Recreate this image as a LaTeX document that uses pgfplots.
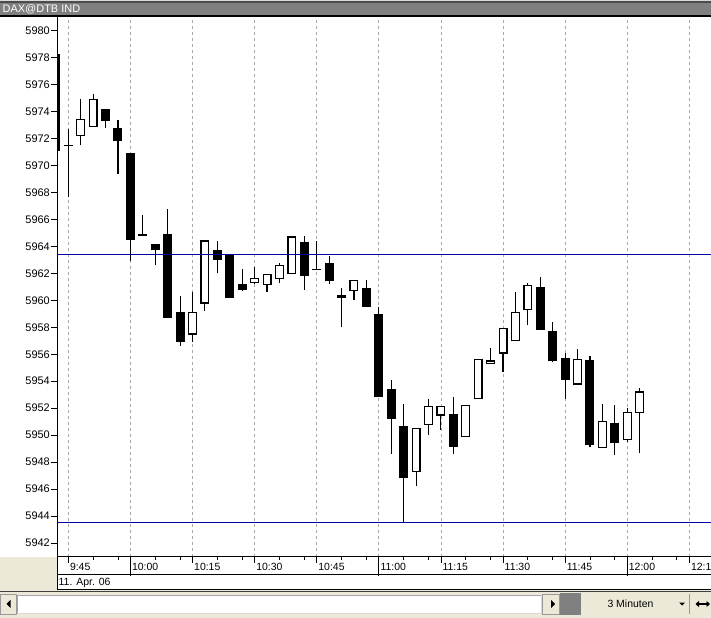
\documentclass[border=0pt]{standalone}
\usepackage{pgfplots}
\usepackage{pgfplotstable}
\pgfplotsset{compat=1.18}
\usetikzlibrary{arrows.meta}
\usepackage{fontspec}
\setmainfont{Liberation Sans}
\definecolor{beige}{HTML}{ECE9D8}
\definecolor{titlegray}{HTML}{808080}
\definecolor{navyline}{HTML}{0000A0}
\definecolor{gridgray}{HTML}{A8A8A8}
% t = minutes after 9:00; o h l c
\pgfplotstableread{
t o h l c
48 5972.2 5974.9 5971.5 5973.4
51 5972.9 5975.3 5972.9 5974.9
75 5957.5 5960.6 5956.9 5959.1
78 5959.8 5964.4 5959.2 5964.4
90 5961.3 5962.5 5961.2 5961.6
93 5961.2 5961.9 5960.6 5961.9
96 5961.6 5962.8 5961.3 5962.6
99 5962.0 5964.7 5962.0 5964.7
114 5960.7 5961.5 5960.0 5961.5
129 5947.3 5950.5 5946.2 5950.5
132 5950.8 5952.7 5950.0 5952.1
135 5951.5 5952.1 5950.4 5952.1
141 5949.9 5952.2 5949.9 5952.2
144 5952.7 5955.6 5952.7 5955.6
147 5955.3 5956.5 5955.3 5955.5
150 5956.1 5957.9 5954.7 5957.9
153 5957.0 5960.6 5957.0 5959.1
156 5959.3 5961.3 5958.2 5961.1
168 5953.8 5956.4 5953.7 5955.6
174 5949.1 5952.3 5949.1 5951.0
180 5949.7 5952.0 5949.5 5951.7
183 5951.7 5953.5 5948.7 5953.2
}\up
\pgfplotstableread{
t o h l c
42 5978.3 5978.3 5971.1 5971.1
45 5971.55 5972.7 5967.7 5971.45
54 5974.2 5974.2 5972.8 5973.3
57 5972.8 5973.4 5969.4 5971.8
60 5970.9 5970.9 5962.9 5964.5
63 5964.95 5966.3 5964.8 5964.8
66 5964.2 5964.2 5962.6 5963.7
69 5964.9 5966.8 5958.7 5958.7
72 5959.1 5960.3 5956.6 5956.9
81 5963.7 5964.4 5962.0 5963.0
84 5963.4 5963.4 5960.2 5960.2
87 5961.2 5962.3 5960.7 5960.8
102 5964.3 5964.8 5960.8 5961.8
105 5962.35 5964.4 5962.25 5962.25
108 5962.8 5963.3 5961.2 5961.4
111 5960.4 5960.9 5958.0 5960.2
117 5960.9 5961.5 5959.5 5959.5
120 5959.0 5959.5 5952.8 5952.8
123 5953.4 5954.1 5948.6 5951.2
126 5950.7 5952.3 5943.5 5946.8
138 5951.6 5952.8 5948.6 5949.1
159 5961.0 5961.7 5957.8 5957.8
162 5957.7 5958.4 5955.4 5955.5
165 5955.7 5956.1 5952.7 5954.1
171 5955.6 5955.9 5949.1 5949.3
177 5950.9 5952.2 5948.5 5949.4
}\dn
\pgfplotsset{
  hidemarks/.style={only marks, mark=*, mark size=0.5pt, mark options={draw opacity=0, fill opacity=0, opacity=0}},
  wick/.style={hidemarks, error bars/.cd, y dir=plus, y explicit, error mark=none,
    error bar style={draw=black, line width=1.1bp, solid, line cap=butt, opacity=1}},
  blackbody/.style={hidemarks, error bars/.cd, y dir=plus, y explicit, error mark=none,
    error bar style={draw=black, line width=9bp, solid, line cap=butt, opacity=1}},
  whitebody/.style={hidemarks, error bars/.cd, y dir=plus, y explicit, error mark=none,
    error bar style={draw=white, line width=6.6bp, solid, line cap=butt, opacity=1}},
}
\begin{document}
\begin{tikzpicture}
\useasboundingbox (0,0) rectangle (711bp,618bp);
\fill[white] (0,0) rectangle (711bp,618bp);
\begin{axis}[
  at={(57bp,61.3bp)}, anchor=south west, scale only axis,
  width=654bp, height=539.7bp,
  xmin=42.27, xmax=200.24, ymin=5940.98, ymax=5981.02,
  axis x line*=bottom, axis y line*=left,
  axis line style={line width=1bp, black, -},
  tick align=outside, major tick length=6bp, minor tick length=3bp,
  tick style={black, line width=0.8bp},
  xtick={45,60,...,195},
  xticklabels={9:45,10:00,10:15,10:30,10:45,11:00,11:15,11:30,11:45,12:00,12:15},
  minor xtick={51,57,66,72,81,87,96,102,111,117,126,132,141,147,156,162,171,177,186,192},
  extra x ticks={60,120,180}, extra x tick labels={,,},
  extra x tick style={grid=none, major tick length=19bp},
  ytick={5942,5944,...,5980}, minor y tick num=3,
  xmajorgrids, major grid style={gridgray, dash pattern=on 3bp off 3bp, line width=0.7bp},
  yticklabel style={font=\fontsize{11}{11}\selectfont, inner sep=1bp,
    /pgf/number format/.cd, set thousands separator={}, assume math mode=true},
  xticklabel style={font=\fontsize{10.5}{10.5}\selectfont, anchor=west, inner sep=0pt, xshift=1.5bp, yshift=-4.5bp},
]
\addplot[wick] table[x=t, y=l, y error expr=\thisrow{h}-\thisrow{l}] {\dn};
\addplot[wick] table[x=t, y=l, y error expr=\thisrow{h}-\thisrow{l}] {\up};
\addplot[blackbody] table[x=t, y=c, y error expr=\thisrow{o}-\thisrow{c}] {\dn};
\addplot[blackbody] table[x=t, y expr=\thisrow{o}-0.045, y error expr=\thisrow{c}-\thisrow{o}+0.09] {\up};
\addplot[whitebody] table[x=t, y expr=\thisrow{o}+0.045, y error expr=\thisrow{c}-\thisrow{o}-0.09] {\up};
\addplot[navyline, line width=1bp, mark=none] coordinates {(40,5963.4) (202,5963.4)};
\addplot[navyline, line width=1bp, mark=none] coordinates {(40,5943.5) (202,5943.5)};
\end{axis}
\begin{scope}[x=1bp,y=1bp]
% title bar
\fill[black!15] (0,618) rectangle (711,616.5);
\fill[black!70] (0,616.5) rectangle (711,615);
\fill[titlegray] (0,615) rectangle (711,603);
\fill[black] (0,603) rectangle (711,601.2);
\node[anchor=west, text=white, inner sep=0pt, font=\fontsize{11}{11}\selectfont] at (2.5,609) {DAX@DTB IND};
% bottom area
\fill[beige] (0,61.3) rectangle (56.5,28);
\fill[beige] (0,0) rectangle (711,28);
\draw[black, line width=1bp] (57,43) -- (711,43);
\draw[black, line width=1bp] (56.5,28) -- (711,28);
\draw[black, line width=1bp] (57,61.8) -- (57,28);
\node[anchor=west, inner sep=0pt, font=\fontsize{10.5}{10.5}\selectfont] at (58.5,35.5) {11. Apr. 06};
\draw[black!75, line width=1bp] (0,26) -- (711,26);
% scroll row
\fill[white] (17,23) rectangle (541,5);
\draw[black!35, line width=0.8bp] (17,5) -- (17,23) -- (541,23);
\draw[black!15, line width=0.8bp] (541,23) -- (541,5) -- (17,5);
\draw[black!40, line width=0.8bp] (0.5,4) rectangle (16.5,24);
\fill[black] (6.5,14) -- (10.5,18) -- (10.5,10) -- cycle;
\draw[black!40, line width=0.8bp] (542,4) rectangle (559.5,24);
\fill[black] (555,14) -- (551,18) -- (551,10) -- cycle;
\fill[titlegray] (560,25) rectangle (581,3);
\node[inner sep=0pt, font=\fontsize{10.5}{10.5}\selectfont] at (630.5,14) {3 Minuten};
\fill[black] (679,15.5) -- (685,15.5) -- (682,12.5) -- cycle;
\draw[black!40, line width=0.8bp] (689,4) -- (689,24);
\draw[line width=1.6bp, {Triangle[length=3.5bp,width=6bp]}-{Triangle[length=3.5bp,width=6bp]}] (695.5,14) -- (710,14);
\end{scope}
\end{tikzpicture}
\end{document}
